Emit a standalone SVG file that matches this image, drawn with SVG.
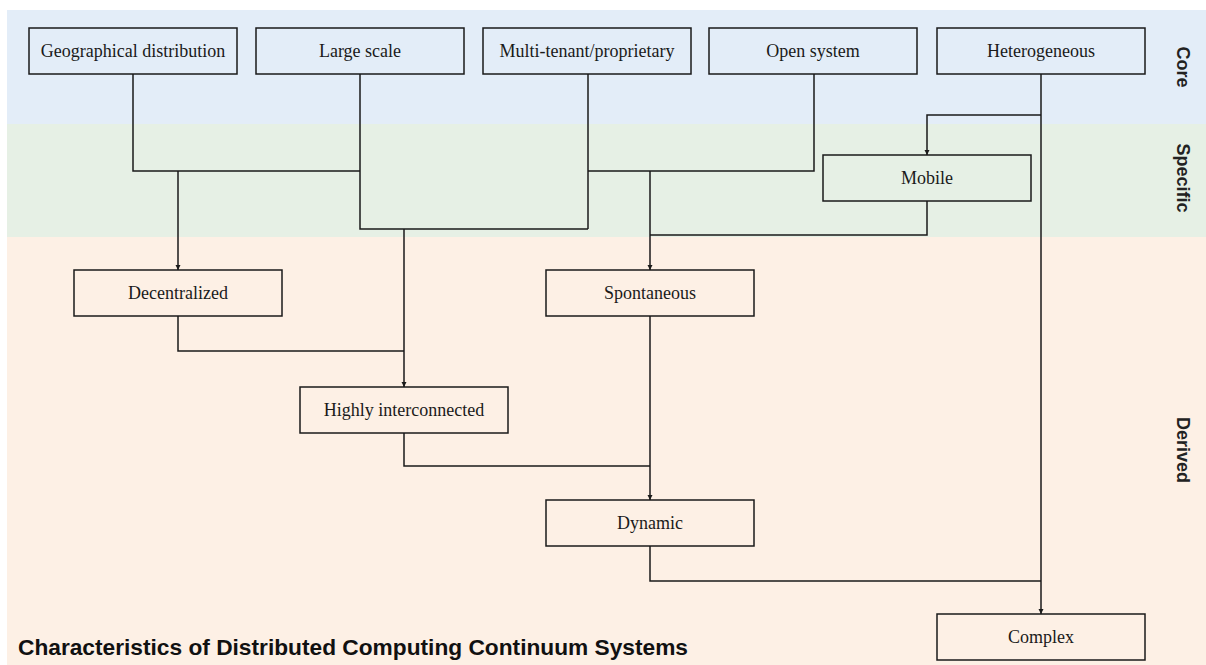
<svg xmlns="http://www.w3.org/2000/svg" width="1206" height="665" viewBox="0 0 1206 665">
  <defs>
    <marker id="arrow" viewBox="0 0 10 10" refX="10" refY="5" markerWidth="5" markerHeight="7" markerUnits="userSpaceOnUse" orient="auto">
      <path d="M0,0 L10,5 L0,10 z" fill="#1a1a1a"/>
    </marker>
    <style>
      .node rect { stroke: #1a1a1a; stroke-width: 1.5; fill: none; }
      .node text { font-family: "Liberation Serif", "Times New Roman", serif; font-size: 18px; fill: #1a1a1a; text-anchor: middle; }
      .edges path { fill: none; stroke: #1a1a1a; stroke-width: 1.5; }
      .edges path.arr { marker-end: url(#arrow); }
      .tier { font-family: "Liberation Sans", Arial, sans-serif; font-weight: bold; font-size: 18px; fill: #222; text-anchor: middle; }
      .title { font-family: "Liberation Sans", Arial, sans-serif; font-weight: bold; font-size: 22px; fill: #111; }
    </style>
  </defs>

  <rect x="0" y="0" width="1206" height="665" fill="#ffffff"/>

  <!-- tier bands -->
  <g id="bands">
    <rect x="7" y="10" width="1199" height="114" fill="#e3edf8"/>
    <rect x="7" y="124" width="1199" height="113" fill="#e6f0e5"/>
    <rect x="7" y="237" width="1199" height="428" fill="#fdf0e5"/>
  </g>

  <!-- tier labels -->
  <g id="tier-labels">
    <text class="tier" transform="translate(1177,67) rotate(90)">Core</text>
    <text class="tier" transform="translate(1177,178) rotate(90)">Specific</text>
    <text class="tier" transform="translate(1177,450) rotate(90)">Derived</text>
  </g>

  <!-- connectors -->
  <g class="edges" id="edges">
    <!-- Geographical distribution + Large scale -> Decentralized -->
    <path d="M133,74 V171 H360"/>
    <path class="arr" d="M178,171 V270"/>
    <!-- Large scale + Multi-tenant -> Highly interconnected -->
    <path d="M360,74 V229 H588"/>
    <path class="arr" d="M404,229 V387"/>
    <!-- Multi-tenant + Open system -> Spontaneous -->
    <path d="M588,74 V229"/>
    <path d="M814,74 V171 H588"/>
    <path class="arr" d="M650,171 V270"/>
    <!-- Heterogeneous -> Mobile -->
    <path class="arr" d="M1041,115 H927 V155"/>
    <!-- Mobile -> Spontaneous -->
    <path d="M927,201 V235 H650"/>
    <!-- Decentralized -> Highly interconnected -->
    <path d="M178,316 V351 H404"/>
    <!-- Highly interconnected + Spontaneous -> Dynamic -->
    <path d="M404,433 V466 H650"/>
    <path class="arr" d="M650,316 V500"/>
    <!-- Dynamic + Heterogeneous -> Complex -->
    <path d="M650,546 V581 H1041"/>
    <path class="arr" d="M1041,74 V614"/>
  </g>

  <!-- core nodes -->
  <g class="node" id="geographical-distribution">
    <rect x="29" y="28" width="208" height="46"/>
    <text x="133" y="57">Geographical distribution</text>
  </g>
  <g class="node" id="large-scale">
    <rect x="256" y="28" width="208" height="46"/>
    <text x="360" y="57">Large scale</text>
  </g>
  <g class="node" id="multi-tenant">
    <rect x="483" y="28" width="208" height="46"/>
    <text x="587" y="57">Multi-tenant/proprietary</text>
  </g>
  <g class="node" id="open-system">
    <rect x="709" y="28" width="208" height="46"/>
    <text x="813" y="57">Open system</text>
  </g>
  <g class="node" id="heterogeneous">
    <rect x="937" y="28" width="208" height="46"/>
    <text x="1041" y="57">Heterogeneous</text>
  </g>

  <!-- specific node -->
  <g class="node" id="mobile">
    <rect x="823" y="155" width="208" height="46"/>
    <text x="927" y="184">Mobile</text>
  </g>

  <!-- derived nodes -->
  <g class="node" id="decentralized">
    <rect x="74" y="270" width="208" height="46"/>
    <text x="178" y="299">Decentralized</text>
  </g>
  <g class="node" id="spontaneous">
    <rect x="546" y="270" width="208" height="46"/>
    <text x="650" y="299">Spontaneous</text>
  </g>
  <g class="node" id="highly-interconnected">
    <rect x="300" y="387" width="208" height="46"/>
    <text x="404" y="416">Highly interconnected</text>
  </g>
  <g class="node" id="dynamic">
    <rect x="546" y="500" width="208" height="46"/>
    <text x="650" y="529">Dynamic</text>
  </g>
  <g class="node" id="complex">
    <rect x="937" y="614" width="208" height="46"/>
    <text x="1041" y="643">Complex</text>
  </g>

  <text class="title" x="18" y="655" textLength="670" lengthAdjust="spacingAndGlyphs">Characteristics of Distributed Computing Continuum Systems</text>
</svg>
